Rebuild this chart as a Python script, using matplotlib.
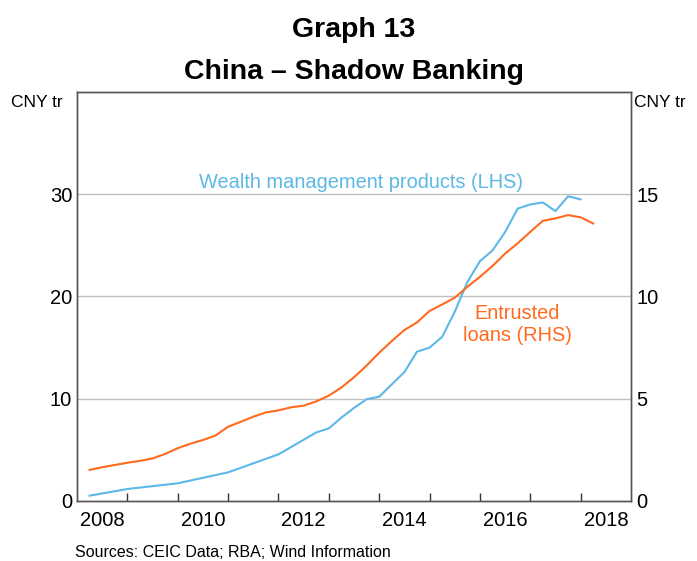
import numpy as np
import matplotlib.pyplot as plt

plt.rcParams['font.family'] = ['Liberation Sans', 'DejaVu Sans']

# Wealth management products, CNY tr (LHS)
wmp_t = [2008.25, 2009.0, 2010.0, 2011.0, 2012.0, 2012.75, 2013.0, 2013.25, 2013.5,
         2013.75, 2014.0, 2014.25, 2014.5, 2014.75, 2015.0, 2015.25, 2015.5, 2015.75,
         2016.0, 2016.25, 2016.5, 2016.75, 2017.0, 2017.25, 2017.5, 2017.75, 2018.0]
wmp = [0.52, 1.17, 1.73, 2.8, 4.56, 6.7, 7.1, 8.15, 9.1,
       9.95, 10.2, 11.4, 12.6, 14.6, 15.0, 16.05, 18.5, 21.4,
       23.45, 24.5, 26.3, 28.6, 29.0, 29.2, 28.35, 29.8, 29.5]

# Entrusted loans, CNY tr (RHS)
el_t = [2008.25, 2008.5, 2008.75, 2009.0, 2009.25, 2009.5, 2009.75, 2010.0, 2010.25,
        2010.5, 2010.75, 2011.0, 2011.25, 2011.5, 2011.75, 2012.0, 2012.25, 2012.5,
        2012.75, 2013.0, 2013.25, 2013.5, 2013.75, 2014.0, 2014.25, 2014.5, 2014.75,
        2015.0, 2015.25, 2015.5, 2015.75, 2016.0, 2016.25, 2016.5, 2016.75, 2017.0,
        2017.25, 2017.5, 2017.75, 2018.0, 2018.25]
el = [1.52, 1.65, 1.76, 1.87, 1.96, 2.08, 2.3, 2.58, 2.8,
      2.98, 3.2, 3.63, 3.87, 4.12, 4.33, 4.43, 4.58, 4.66,
      4.87, 5.15, 5.55, 6.05, 6.62, 7.25, 7.82, 8.36, 8.73,
      9.29, 9.61, 9.94, 10.47, 10.96, 11.49, 12.1, 12.6, 13.16,
      13.7, 13.82, 13.98, 13.87, 13.57]

year_labels = ['2008', '2010', '2012', '2014', '2016', '2018']
left_ticks = [0, 10, 20, 30]
right_ticks = [0, 5, 10, 15]

blue = '#5cb8e6'
orange = '#ff6a1f'

fig = plt.figure(figsize=(6.97, 5.61), dpi=100)
ax = fig.add_axes([0.1105, 0.107, 0.7948, 0.729])
ax2 = ax.twinx()

ax.set_xlim(2008, 2019)
ax.set_ylim(0, 40)
ax2.set_ylim(0, 20)

for y in left_ticks[1:]:
    ax.axhline(y, color='#c0c0c0', lw=1.0, zorder=0)

ax.plot(wmp_t, wmp, color=blue, lw=1.5, zorder=3)
ax2.plot(el_t, el, color=orange, lw=1.5, zorder=3)

# year boundary ticks, labels mid-year
ax.set_xticks(range(2009, 2019))
ax.set_xticklabels([])
ax.set_xticks([int(s) + 0.5 for s in year_labels], minor=True)
ax.set_xticklabels(year_labels, minor=True, fontsize=14.5)
ax.tick_params(axis='x', which='major', direction='in', length=6, width=1, color='#333333')
ax.tick_params(axis='x', which='minor', length=0, pad=7)

ax.set_yticks(left_ticks)
ax.set_yticklabels([str(v) for v in left_ticks], fontsize=14.5)
ax.tick_params(axis='y', length=0, pad=3.5)
ax2.set_yticks(right_ticks)
ax2.set_yticklabels([str(v) for v in right_ticks], fontsize=14.5)
ax2.tick_params(axis='y', length=0, pad=4)

for a in (ax, ax2):
    for s in a.spines.values():
        s.set_color('#555555')
        s.set_linewidth(1.0)

fig.text(0.09, 0.818, 'CNY tr', ha='right', va='center', fontsize=12.5)
fig.text(0.909, 0.818, 'CNY tr', ha='left', va='center', fontsize=12.5)

ax.text(2013.64, 31.1, 'Wealth management products (LHS)', color=blue, ha='center', va='center', fontsize=14.4)
ax2.text(2016.74, 8.63, 'Entrusted\nloans (RHS)', color=orange, ha='center', va='center',
         fontsize=14.4, linespacing=1.2)

fig.text(0.508, 0.947, 'Graph 13', ha='center', va='center', fontsize=20.5, fontweight='bold')
fig.text(0.508, 0.872, 'China \u2013 Shadow Banking', ha='center', va='center', fontsize=20.5, fontweight='bold')
fig.text(0.108, 0.0143, 'Sources: CEIC Data; RBA; Wind Information', ha='left', va='center', fontsize=11.5)

fig.savefig('out.png', dpi=100)
